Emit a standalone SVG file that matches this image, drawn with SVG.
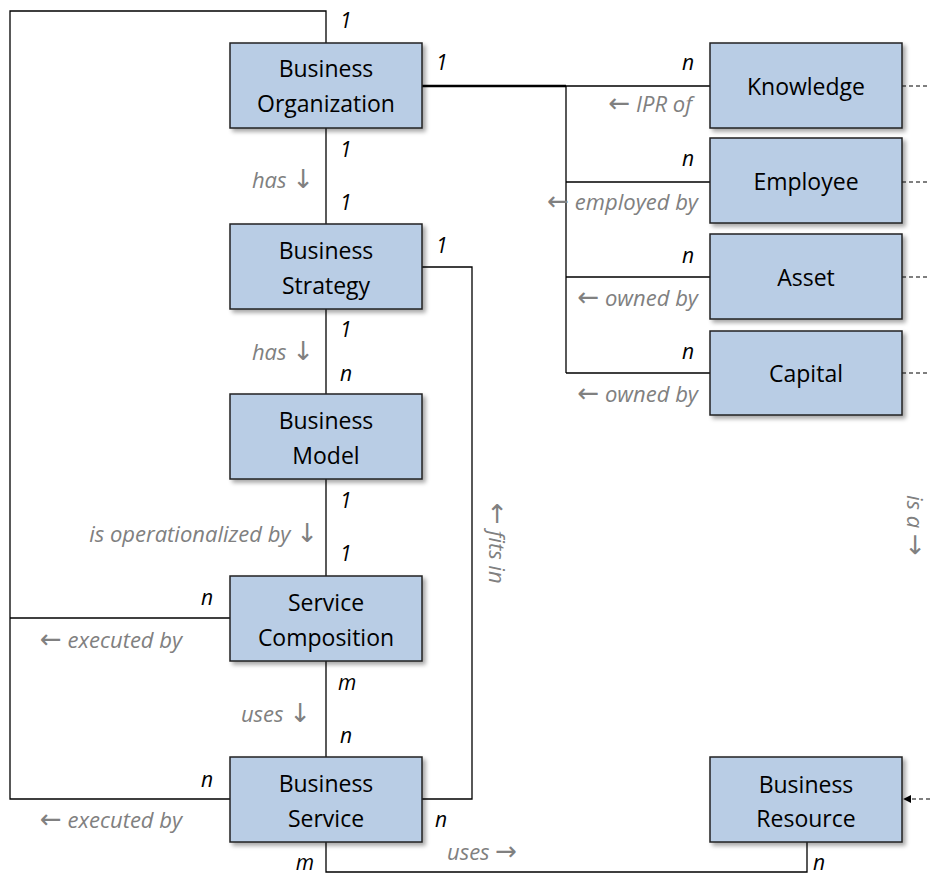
<svg xmlns="http://www.w3.org/2000/svg" width="930" height="875" viewBox="0 0 930 875">
  <defs>
    <filter id="shadow" x="-10%" y="-10%" width="125%" height="130%">
      <feDropShadow dx="3" dy="3" stdDeviation="2" flood-color="#000" flood-opacity="0.35"/>
    </filter>
    <marker id="arrowHead" viewBox="0 0 10 10" refX="9" refY="5" markerWidth="8" markerHeight="8" markerUnits="userSpaceOnUse" orient="auto">
      <path d="M0,0 L10,5 L0,10 z" fill="#000"/>
    </marker>
  </defs>
  <style>
    .box { fill: #b9cde5; stroke: #222; stroke-width: 1.5; filter: url(#shadow); }
    .label { font-family: "Open Sans", "Liberation Sans", sans-serif; font-size: 23px; fill: #000; text-anchor: middle; }
    .card { font-family: "Open Sans", "Liberation Sans", sans-serif; font-size: 21px; font-style: italic; fill: #000; }
    .role { font-family: "Open Sans", "Liberation Sans", sans-serif; font-size: 22px; font-style: italic; fill: #808080; }
    .arr { font-family: "DejaVu Sans", sans-serif; font-style: normal; font-size: 26px; }
    .end { text-anchor: end; }
    .line { fill: none; stroke: #000; stroke-width: 1.3; }
    .thick { fill: none; stroke: #000; stroke-width: 2.6; }
    .dash { fill: none; stroke: #000; stroke-width: 1.2; stroke-dasharray: 4 3; }
  </style>

  <rect width="930" height="875" fill="#fff"/>

  <!-- connectors -->
  <g id="connectors">
    <path class="line" d="M326,43 V11 H10 V799 H230"/>
    <path class="line" d="M10,618 H230"/>
    <path class="line" d="M326,128 V224"/>
    <path class="line" d="M326,309 V394"/>
    <path class="line" d="M326,479 V576"/>
    <path class="line" d="M326,661 V757"/>
    <path class="line" d="M422,267 H472 V799 H422"/>
    <path class="line" d="M326,842 V872 H807 V842"/>
    <path class="thick" d="M422,86 H566"/>
    <path class="line" d="M566,86 H710 M566,86 V373 M566,182 H710 M566,277 H710 M566,373 H710"/>
    <path class="dash" d="M902,86 H930 M902,182 H930 M902,277 H930 M902,373 H930"/>
    <path class="dash" d="M930,799 H904" marker-end="url(#arrowHead)"/>

    <!-- multiplicities -->
    <text class="card" x="340" y="28">1</text>
    <text class="card" x="436" y="70">1</text>
    <text class="card" x="340" y="157">1</text>
    <text class="card" x="340" y="210">1</text>
    <text class="card end" x="694" y="70">n</text>
    <text class="card end" x="694" y="166">n</text>
    <text class="card end" x="694" y="263">n</text>
    <text class="card end" x="694" y="359">n</text>
    <text class="card" x="436" y="253">1</text>
    <text class="card" x="340" y="337">1</text>
    <text class="card" x="340" y="381">n</text>
    <text class="card" x="340" y="508">1</text>
    <text class="card" x="340" y="561">1</text>
    <text class="card end" x="213" y="605">n</text>
    <text class="card" x="338" y="690">m</text>
    <text class="card" x="340" y="743">n</text>
    <text class="card end" x="213" y="787">n</text>
    <text class="card" x="435" y="827">n</text>
    <text class="card end" x="314" y="870">m</text>
    <text class="card" x="813" y="870">n</text>

    <!-- association names -->
    <text class="role end" x="314" y="188">has <tspan class="arr">↓</tspan></text>
    <text class="role end" x="692" y="112"><tspan class="arr">←</tspan> IPR of</text>
    <text class="role end" x="698" y="210"><tspan class="arr">←</tspan> employed by</text>
    <text class="role end" x="698" y="306"><tspan class="arr">←</tspan> owned by</text>
    <text class="role end" x="698" y="402"><tspan class="arr">←</tspan> owned by</text>
    <text class="role end" x="314" y="360">has <tspan class="arr">↓</tspan></text>
    <text class="role end" x="318" y="542">is operationalized by <tspan class="arr">↓</tspan></text>
    <text class="role" x="40" y="648"><tspan class="arr">←</tspan> executed by</text>
    <text class="role end" x="311" y="722">uses <tspan class="arr">↓</tspan></text>
    <text class="role" x="40" y="828"><tspan class="arr">←</tspan> executed by</text>
    <text class="role" x="447" y="860">uses <tspan class="arr">→</tspan></text>
    <text class="role" transform="translate(489,503) rotate(90)"><tspan class="arr">←</tspan> fits in</text>
    <text class="role" transform="translate(907,495) rotate(90)">is a <tspan class="arr">→</tspan></text>
  </g>

  <!-- nodes -->
  <g id="business-organization">
    <rect class="box" x="230" y="43" width="192" height="85"/>
    <text class="label" x="326" y="77">Business</text>
    <text class="label" x="326" y="112">Organization</text>
  </g>
  <g id="business-strategy">
    <rect class="box" x="230" y="224" width="192" height="85"/>
    <text class="label" x="326" y="259">Business</text>
    <text class="label" x="326" y="294">Strategy</text>
  </g>
  <g id="business-model">
    <rect class="box" x="230" y="394" width="192" height="85"/>
    <text class="label" x="326" y="429">Business</text>
    <text class="label" x="326" y="464">Model</text>
  </g>
  <g id="service-composition">
    <rect class="box" x="230" y="576" width="192" height="85"/>
    <text class="label" x="326" y="611">Service</text>
    <text class="label" x="326" y="646">Composition</text>
  </g>
  <g id="business-service">
    <rect class="box" x="230" y="757" width="192" height="85"/>
    <text class="label" x="326" y="792">Business</text>
    <text class="label" x="326" y="827">Service</text>
  </g>
  <g id="knowledge">
    <rect class="box" x="710" y="43" width="192" height="85"/>
    <text class="label" x="806" y="95">Knowledge</text>
  </g>
  <g id="employee">
    <rect class="box" x="710" y="138" width="192" height="85"/>
    <text class="label" x="806" y="190">Employee</text>
  </g>
  <g id="asset">
    <rect class="box" x="710" y="234" width="192" height="85"/>
    <text class="label" x="806" y="286">Asset</text>
  </g>
  <g id="capital">
    <rect class="box" x="710" y="331" width="192" height="84"/>
    <text class="label" x="806" y="382">Capital</text>
  </g>
  <g id="business-resource">
    <rect class="box" x="710" y="757" width="192" height="85"/>
    <text class="label" x="806" y="793">Business</text>
    <text class="label" x="806" y="827">Resource</text>
  </g>
</svg>
